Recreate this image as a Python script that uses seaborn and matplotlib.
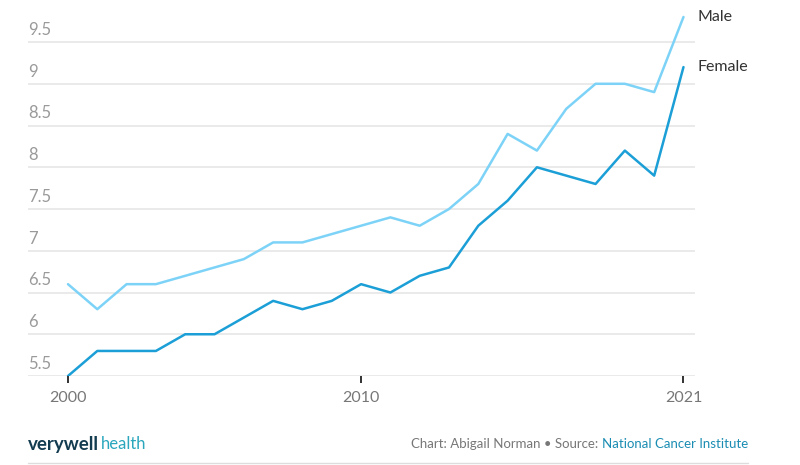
import numpy as np
import pandas as pd
import matplotlib
matplotlib.use("Agg")
import matplotlib.pyplot as plt
import seaborn as sns

years = list(range(2000, 2022))
male = [6.6, 6.3, 6.6, 6.6, 6.7, 6.8, 6.9, 7.1, 7.1, 7.2, 7.3,
        7.4, 7.3, 7.5, 7.8, 8.4, 8.2, 8.7, 9.0, 9.0, 8.9, 9.8]
female = [5.5, 5.8, 5.8, 5.8, 6.0, 6.0, 6.2, 6.4, 6.3, 6.4, 6.6,
          6.5, 6.7, 6.8, 7.3, 7.6, 8.0, 7.9, 7.8, 8.2, 7.9, 9.2]
series = ["Male", "Female"]
colors = {"Male": "#7dd3f7", "Female": "#1b9fd6"}
y_ticks = [5.5, 6, 6.5, 7, 7.5, 8, 8.5, 9, 9.5]
y_tick_labels = ["5.5", "6", "6.5", "7", "7.5", "8", "8.5", "9", "9.5"]
x_ticks = [2000, 2010, 2021]

df = pd.DataFrame({
    "year": years * 2,
    "rate": male + female,
    "sex": ["Male"] * len(years) + ["Female"] * len(years),
})

sns.set_theme(style="white")
plt.rcParams["font.family"] = ["Lato", "DejaVu Sans"]

fig = plt.figure(figsize=(8, 4.65), dpi=100)
ax = fig.add_axes([0.035, 0.1914, 0.834, 0.79])

sns.lineplot(data=df, x="year", y="rate", hue="sex", hue_order=series,
             palette=colors, linewidth=1.8, legend=False, ax=ax, zorder=3)

ax.set_xlim(1998.636, 2021.4)
ax.set_ylim(5.5, 9.9)
for s in ax.spines.values():
    s.set_visible(False)

# gridlines
for yv in y_ticks:
    ax.axhline(yv, color="#e6e6e6", linewidth=1.2, zorder=1)
ax.set_yticks([])
ax.set_xticks(x_ticks)
ax.set_xticklabels([str(x) for x in x_ticks], fontsize=11.5, color="#777777")
ax.tick_params(axis="x", bottom=True, direction="out", length=5, width=1.3,
               color="#222222", pad=6)
ax.set_xlabel("")
ax.set_ylabel("")

# y tick labels above gridlines
for yv, lab in zip(y_ticks, y_tick_labels):
    ax.annotate(lab, xy=(0, yv), xycoords=("axes fraction", "data"),
                xytext=(0, 3), textcoords="offset points",
                ha="left", va="bottom", fontsize=12, color="#9a9a9a")

# series labels
for name, vals in (("Male", male), ("Female", female)):
    ax.annotate(name, xy=(years[-1], vals[-1]), xycoords="data",
                xytext=(10, 0), textcoords="offset points",
                ha="left", va="center", fontsize=11.5, color="#333333",
                annotation_clip=False)

# footer
t1 = fig.text(0.035, 0.045, "verywell", fontsize=13.5, fontweight="bold",
              color="#143c50", ha="left", va="center")
fig.canvas.draw()
b1 = t1.get_window_extent()
fig.text(b1.x1 / fig.bbox.width + 0.002, 0.045, "health", fontsize=12,
         color="#2aa7bd", ha="left", va="center")
t2 = fig.text(0.935, 0.045, "National Cancer Institute", fontsize=9.5,
              color="#1b8db3", ha="right", va="center")
fig.canvas.draw()
bb = t2.get_window_extent()
fig.text(bb.x0 / fig.bbox.width, 0.045, "Chart: Abigail Norman \u2022 Source: ",
         fontsize=9.5, color="#777777", ha="right", va="center")
fig.add_artist(plt.Line2D([0.035, 0.935], [0.004, 0.004], color="#dddddd",
                          linewidth=1, transform=fig.transFigure))

fig.savefig("out.png", dpi=100)
